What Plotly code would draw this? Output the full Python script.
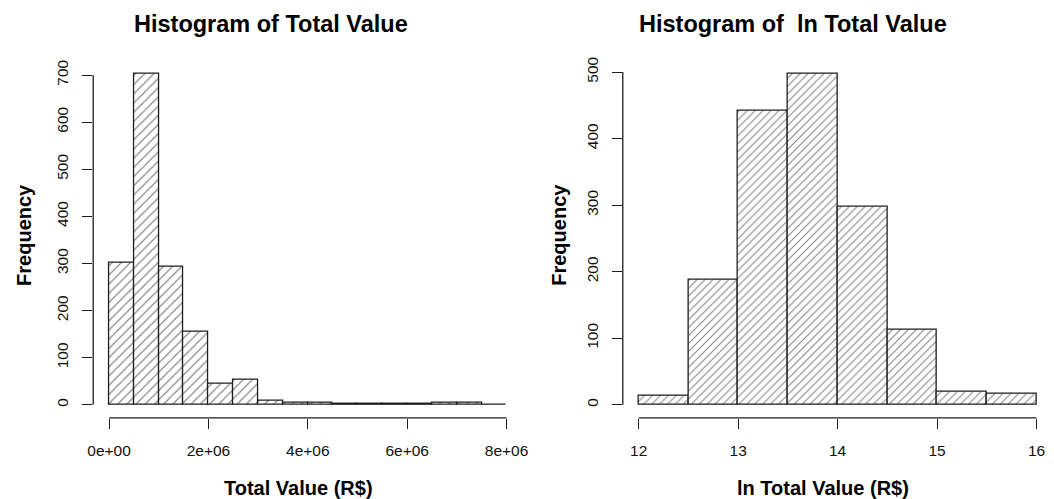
import plotly.graph_objects as go

# Histogram of raw total values (R$): bin edges and counts
value_edges = [0, 500000, 1000000, 1500000, 2000000, 2500000, 3000000, 3500000,
               4000000, 4500000, 5000000, 5500000, 6000000, 6500000, 7000000,
               7500000, 8000000]
value_counts = [302, 702, 292, 155, 45, 52, 9, 4, 4, 1, 1, 1, 1, 3, 3, 0]
value_ticks = [0, 2000000, 4000000, 6000000, 8000000]
value_tick_labels = ["0e+00", "2e+06", "4e+06", "6e+06", "8e+06"]
value_freq_ticks = [0, 100, 200, 300, 400, 500, 600, 700]

# Histogram of log total values: bin edges and counts
log_edges = [12.0, 12.5, 13.0, 13.5, 14.0, 14.5, 15.0, 15.5, 16.0]
log_counts = [13, 188, 441, 497, 298, 112, 20, 17]
log_ticks = [12, 13, 14, 15, 16]
log_tick_labels = ["12", "13", "14", "15", "16"]
log_freq_ticks = [0, 100, 200, 300, 400, 500]

W, H = 1054, 499
FONT = "Liberation Sans, Arial, sans-serif"
INK = "#1e1e1e"


def px_x(p):
    return p / W


def px_y(p):
    return 1 - p / H


def mids(edges):
    return [(a + b) / 2 for a, b in zip(edges[:-1], edges[1:])]


def widths(edges):
    return [b - a for a, b in zip(edges[:-1], edges[1:])]


def padded(lo, hi, frac=0.04):
    d = hi - lo
    return [lo - frac * d, hi + frac * d]


def hatched_bar(edges, counts, xa, ya, size):
    return go.Bar(
        x=mids(edges), y=counts, width=widths(edges),
        xaxis=xa, yaxis=ya, showlegend=False, hoverinfo="x+y",
        marker=dict(
            color="white",
            line=dict(color=INK, width=1.3),
            pattern=dict(shape="/", fgcolor="#111111", size=size, solidity=0.2),
        ),
    )


fig = go.Figure()
fig.add_trace(hatched_bar(value_edges, value_counts, "x", "y", 6.5))
fig.add_trace(hatched_bar(log_edges, log_counts, "x2", "y2", 5.6))

y_dom = [(H - 417.3) / H, (H - 57.3) / H]
tick_font = dict(family=FONT, size=15.5, color="#111111")

x1_range = padded(value_edges[0], value_edges[-1])
x2_full = padded(log_edges[0], log_edges[-1])
# right panel is cut at the page edge; keep the same px-per-unit scale
x2_dom = [623.9 / W, 1.0]
x2_range = [x2_full[0], x2_full[0] + (x2_full[1] - x2_full[0]) * (W - 623.9) / 434.6]

common_x = dict(showgrid=False, zeroline=False, showline=False, ticks="outside",
                ticklen=10, tickwidth=1.2, tickcolor=INK, tickfont=tick_font,
                ticklabelstandoff=8)
common_y = dict(showgrid=False, zeroline=False, showline=False, ticks="outside",
                ticklen=10, tickwidth=1.2, tickcolor=INK, tickfont=tick_font,
                tickangle=-90, ticklabelstandoff=8)

fig.update_layout(
    width=W, height=H,
    margin=dict(l=0, r=0, t=0, b=0),
    paper_bgcolor="white", plot_bgcolor="white",
    bargap=0,
    xaxis=dict(domain=[88.2 / W, 522.4 / W], range=x1_range, anchor="y",
               tickvals=value_ticks, ticktext=value_tick_labels, **common_x),
    yaxis=dict(domain=y_dom, range=padded(0, max(value_counts)), anchor="x",
               tickvals=value_freq_ticks, **common_y),
    xaxis2=dict(domain=x2_dom, range=x2_range, anchor="y2",
                tickvals=log_ticks, ticktext=log_tick_labels, **common_x),
    yaxis2=dict(domain=y_dom, range=padded(0, max(log_counts)), anchor="x2",
                tickvals=log_freq_ticks, **common_y),
)

# R-style axis lines spanning only first to last tick
shapes = []
for xr, yr, xt, yt in [("x", "y", value_ticks, value_freq_ticks),
                       ("x2", "y2", log_ticks, log_freq_ticks)]:
    shapes.append(dict(type="line", xref=xr, yref=yr + " domain",
                       x0=xt[0], x1=xt[-1], y0=0, y1=0,
                       line=dict(color=INK, width=1.3)))
    shapes.append(dict(type="line", xref=xr + " domain", yref=yr,
                       x0=0, x1=0, y0=yt[0], y1=yt[-1],
                       line=dict(color=INK, width=1.3)))
fig.update_layout(shapes=shapes)

title_font = dict(family=FONT, size=23.5, color="black", weight="bold")
label_font = dict(family=FONT, size=20, color="black", weight="bold")


def label(text, x, y, font, angle=0):
    fig.add_annotation(text=text, x=px_x(x), y=px_y(y), xref="paper", yref="paper",
                       xanchor="center", yanchor="middle", showarrow=False,
                       textangle=angle, font=font)


label("Histogram of Total Value", 268, 20, title_font)
label("Histogram of\u00a0 ln Total Value", 796, 20, title_font)
label("Total Value (R$)", 296, 488, label_font)
label("ln Total Value (R$)", 826, 488, label_font)
label("Frequency", 18, 233, label_font, -90)
label("Frequency", 560, 233, label_font, -90)

fig.write_html("out.html")
